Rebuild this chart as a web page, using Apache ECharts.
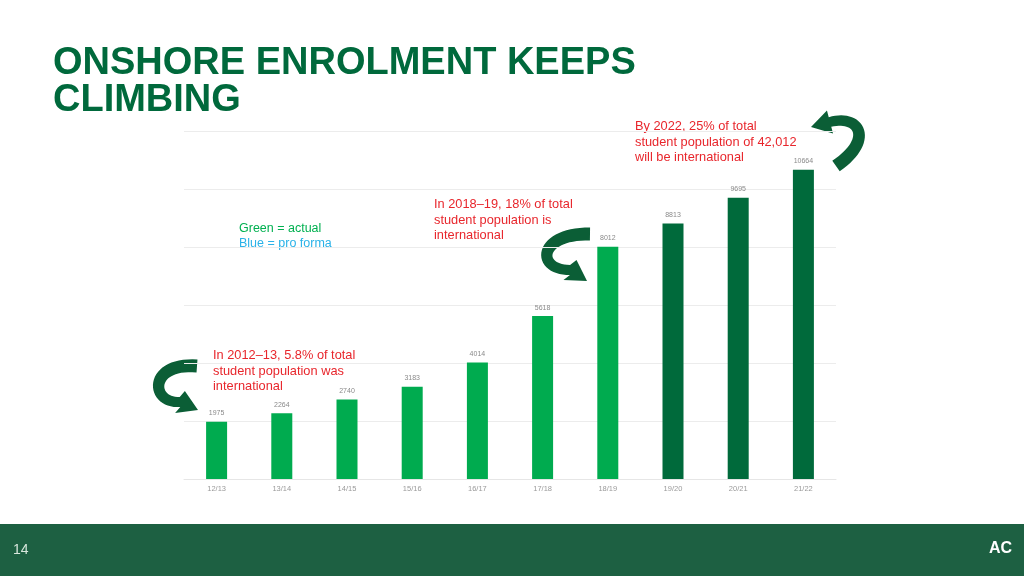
<!DOCTYPE html>
<html>
<head>
<meta charset="utf-8">
<script src="https://cdn.jsdelivr.net/npm/echarts@6/dist/echarts.min.js"></script>
<style>
html,body{margin:0;padding:0;background:#fff;}
#c{width:1024px;height:576px;}
</style>
</head>
<body>
<div id="c"></div>
<script>
var categories = ['12/13','13/14','14/15','15/16','16/17','17/18','18/19','19/20','20/21','21/22'];
var actualValues = [1975, 2264, 2740, 3183, 4014, 5618, 8012, '-', '-', '-'];
var proFormaValues = ['-', '-', '-', '-', '-', '-', '-', 8813, 9695, 10664];
var titleLines = 'ONSHORE ENROLMENT KEEPS\nCLIMBING';
var note2013 = 'In 2012\u201313, 5.8% of total\nstudent population was\ninternational';
var note2019 = 'In 2018\u201319, 18% of total\nstudent population is\ninternational';
var note2022 = 'By 2022, 25% of total\nstudent population of 42,012\nwill be international';
var legendActual = 'Green = actual';
var legendProForma = 'Blue = pro forma';
var pageNumber = '14';

var FONT = '"Liberation Sans", Arial, Helvetica, sans-serif';
var RED = '#E8262C';
var ARROW = '#0B5E36';

// build a tapered curved arrow outline (decoration only)
function arrowPoints(p0, c1, c2, p3, tip, w0, w1, hw) {
  function bz(t) {
    var u = 1 - t;
    return [
      u*u*u*p0[0] + 3*u*u*t*c1[0] + 3*u*t*t*c2[0] + t*t*t*p3[0],
      u*u*u*p0[1] + 3*u*u*t*c1[1] + 3*u*t*t*c2[1] + t*t*t*p3[1]
    ];
  }
  var n = 30, left = [], right = [];
  for (var i = 0; i <= n; i++) {
    var t = i / n;
    var a = bz(Math.max(0, t - 0.01)), b = bz(Math.min(1, t + 0.01)), p = bz(t);
    var dx = b[0] - a[0], dy = b[1] - a[1], L = Math.sqrt(dx*dx + dy*dy) || 1;
    var nx = -dy / L, ny = dx / L;
    var w = (w0 + (w1 - w0) * t) / 2;
    left.push([p[0] + nx*w, p[1] + ny*w]);
    right.push([p[0] - nx*w, p[1] - ny*w]);
  }
  var hx = tip[0] - p3[0], hy = tip[1] - p3[1], hl = Math.sqrt(hx*hx + hy*hy);
  var px = -hy / hl, py = hx / hl;
  var pts = left.slice();
  pts.push([p3[0] + px*hw, p3[1] + py*hw]);
  pts.push([tip[0], tip[1]]);
  pts.push([p3[0] - px*hw, p3[1] - py*hw]);
  for (i = n; i >= 0; i--) pts.push(right[i]);
  return pts;
}

var chart = echarts.init(document.getElementById('c'));

var labelStyle = {show: true, position: 'top', distance: 5, color: '#8a8a8a', fontSize: 7, fontFamily: FONT};

chart.setOption({
  backgroundColor: '#ffffff',
  animation: false,
  grid: {left: 184, right: 188, top: 131, bottom: 97},
  xAxis: {
    type: 'category',
    data: categories,
    axisLine: {show: true, lineStyle: {color: '#e6e6e6'}},
    axisTick: {show: false},
    axisLabel: {color: '#9a9a9a', fontSize: 7.5, fontFamily: FONT, margin: 6}
  },
  yAxis: {
    type: 'value',
    min: 0, max: 12000, interval: 2000,
    axisLabel: {show: false},
    axisLine: {show: false},
    axisTick: {show: false},
    splitLine: {lineStyle: {color: '#ececec', width: 1}}
  },
  series: [
    {
      name: 'Actual', type: 'bar', stack: 'a', barWidth: 21,
      data: actualValues,
      itemStyle: {color: '#00AB4F'},
      label: labelStyle
    },
    {
      name: 'Pro forma', type: 'bar', stack: 'a', barWidth: 21,
      data: proFormaValues,
      itemStyle: {color: '#006A3B'},
      label: labelStyle
    }
  ],
  graphic: [
    {type: 'text', x: 53, y: 45, style: {text: titleLines, font: 'bold 38px ' + FONT, fill: '#00693C', lineHeight: 37}},
    {type: 'text', x: 239, y: 222, style: {text: legendActual, font: '12.5px ' + FONT, fill: '#00B050'}},
    {type: 'text', x: 239, y: 237, style: {text: legendProForma, font: '12.5px ' + FONT, fill: '#2AB2E8'}},
    {type: 'text', x: 213, y: 348, style: {text: note2013, font: '12.8px ' + FONT, fill: RED, lineHeight: 15.5}},
    {type: 'text', x: 434, y: 197, style: {text: note2019, font: '12.8px ' + FONT, fill: RED, lineHeight: 15.5}},
    {type: 'text', x: 635, y: 119, style: {text: note2022, font: '12.8px ' + FONT, fill: RED, lineHeight: 15.5}},
    {type: 'polygon', shape: {points: arrowPoints([197,366],[148,362],[150,404],[180,402],[198,410],13,10,12)}, style: {fill: ARROW}},
    {type: 'polygon', shape: {points: arrowPoints([590,234],[538,233],[535,270],[570,270],[587,281],13,10,12)}, style: {fill: ARROW}},
    {type: 'polygon', shape: {points: arrowPoints([836,166],[874,140],[860,114],[830,122],[811,127],13,10,12)}, style: {fill: ARROW}},
    {type: 'rect', x: 0, y: 524, shape: {width: 1024, height: 52}, style: {fill: '#1D6042'}},
    {type: 'text', x: 13, y: 543, style: {text: pageNumber, font: '14px ' + FONT, fill: '#d8e6dc'}},
    {type: 'text', x: 989, y: 541, style: {text: 'AC', font: 'bold 16px ' + FONT, fill: '#ffffff'}}
  ]
});
</script>
</body>
</html>
